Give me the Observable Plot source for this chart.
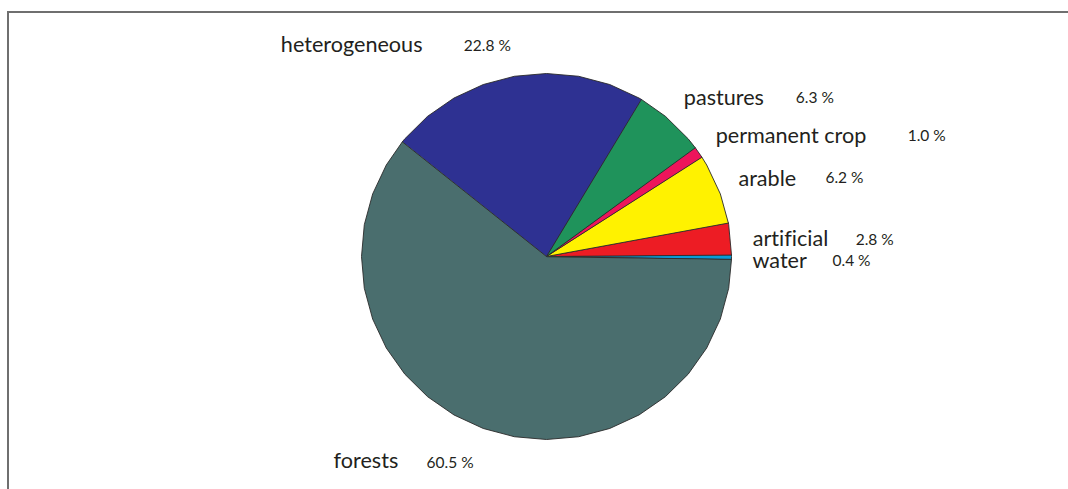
<!DOCTYPE html>
<html>
<head>
<meta charset="utf-8">
<script src="https://cdn.jsdelivr.net/npm/d3@7"></script>
<script src="https://cdn.jsdelivr.net/npm/@observablehq/plot@0.6"></script>
<style>
  html, body { margin: 0; padding: 0; background: #fff; overflow: hidden; }
  #wrap { position: relative; width: 1068px; height: 489px; }
  #frame { position: absolute; left: 7px; top: 11px; width: 1100px; height: 500px;
           border-top: 2px solid #6f6f6f; border-left: 2px solid #6f6f6f; }
  #chart { position: absolute; left: 0; top: 0; }
  #chart text { font-variant-ligatures: none; }
</style>
</head>
<body>
<div id="wrap"><div id="frame"></div><div id="chart"></div></div>
<script>
// ---- data ----
const categories = ["water", "artificial", "arable", "permanent crop", "pastures", "heterogeneous", "forests"];
const shares = [0.4, 2.8, 6.2, 1.0, 6.3, 22.8, 60.5];
const valueLabels = ["0.4 %", "2.8 %", "6.2 %", "1.0 %", "6.3 %", "22.8 %", "60.5 %"];
const colors = ["#0a9bd6", "#ed1c24", "#fff200", "#ed145b", "#1f935b", "#2e3192", "#4a6e6e"];

// ---- layout (pixel offsets of labels from the slice's rim mid-point) ----
const startAngle = -1; // degrees, counter-clockwise from east
const nameOffset = [[21, 10.5], [22, 6.5], [20, -2.4], [17, -9], [13, -15.5], [-233, -24], [-150, 39]];
const valueOffset = [[80, -1.7], [103, -1], [87, -3], [192, -2.5], [112, -2.5], [183, -1], [93, 0]];
const RX = 185, RY = 183;

// ---- geometry ----
const total = d3.sum(shares);
const slices = [];
let a = startAngle;
categories.forEach((name, i) => {
  const a0 = a, a1 = a + shares[i] / total * 360;
  a = a1;
  slices.push({name, a0, a1, mid: (a0 + a1) / 2, i});
});
const rad = (d) => d * Math.PI / 180;
const pts = [];
for (const s of slices) {
  const angles = [s.a0];
  for (let k = Math.ceil(s.a0 / 10) * 10; k < s.a1; k += 10) if (k > s.a0) angles.push(k);
  angles.push(s.a1);
  pts.push({name: s.name, x: 0, y: 0});
  for (const t of angles) pts.push({name: s.name, x: Math.cos(rad(t)), y: Math.sin(rad(t))});
}
const labels = slices.map((s) => {
  const cx = Math.cos(rad(s.mid)), cy = Math.sin(rad(s.mid));
  const [ndx, ndy] = nameOffset[s.i];
  const [vdx, vdy] = valueOffset[s.i];
  return {
    name: s.name,
    value: valueLabels[s.i],
    nx: cx + ndx / RX, ny: cy - ndy / RY,
    vx: cx + (ndx + vdx) / RX, vy: cy - (ndy + vdy) / RY
  };
});

const plot = Plot.plot({
  width: 1068,
  height: 489,
  margin: 0,
  style: {background: "transparent", fontFamily: "Lato, sans-serif"},
  x: {domain: [-1, 1], range: [546 - RX, 546 + RX], axis: null},
  y: {domain: [-1, 1], range: [256 + RY, 256 - RY], axis: null},
  color: {type: "ordinal", domain: categories, range: colors},
  marks: [
    Plot.line(pts, {x: "x", y: "y", z: "name", fill: "name", stroke: "#2a2a2a", strokeWidth: 0.9, curve: "linear-closed", strokeLinejoin: "round"}),
    Plot.text(labels, {x: "nx", y: "ny", text: "name", textAnchor: "start", lineAnchor: "bottom", fontSize: 21.6, fill: "#231f20"}),
    Plot.text(labels, {x: "vx", y: "vy", text: "value", textAnchor: "start", lineAnchor: "bottom", fontSize: 15.5, fill: "#231f20"})
  ]
});
document.getElementById("chart").appendChild(plot);
</script>
</body>
</html>
